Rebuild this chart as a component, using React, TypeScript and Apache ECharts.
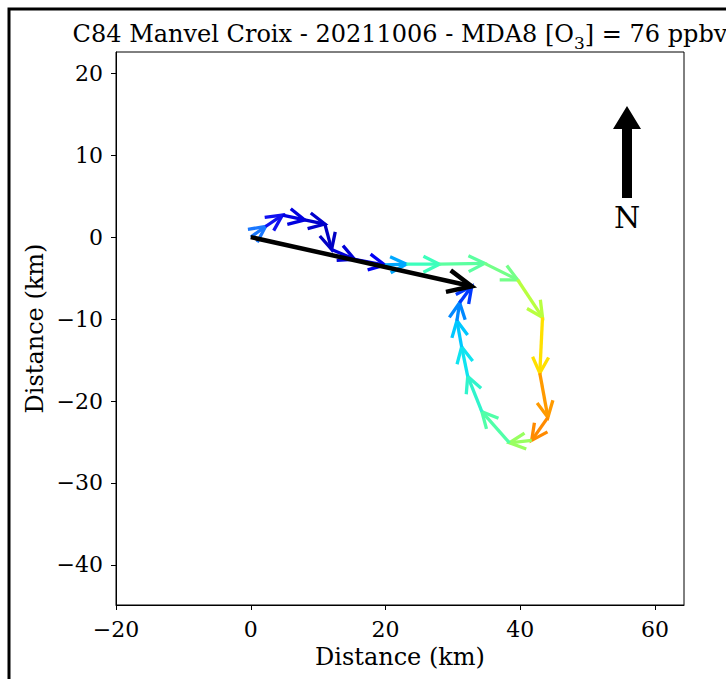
import React, { useEffect, useRef } from "react";
import * as echarts from "echarts";

// Trajectory vertices (km east, km north), in order of travel
const xKm = [0, 2.2, 4.7, 8.0, 11.0, 12.0, 15.4, 19.9, 23.1, 28.0, 34.7, 39.6, 43.3, 42.9, 44.1, 41.7, 38.4, 34.3, 32.2, 31.3, 30.6, 31.0, 32.8];
const yKm = [0, 1.3, 2.7, 2.1, 1.6, -1.5, -2.7, -3.4, -3.3, -3.3, -3.2, -5.2, -9.8, -16.6, -22.0, -24.8, -25.1, -21.3, -17.0, -13.4, -10.2, -8.0, -6.0];
// colour of each segment (jet colormap values)
const segColors = [
  "#1a78ff", "#1010f0", "#0000e0", "#0000cc", "#0000c4", "#0000d8", "#0000f4", "#00a8ff",
  "#3cffbc", "#5cffa0", "#74ff88", "#b8ff40", "#ffe000", "#ff9a00", "#ff8a00", "#98ff60",
  "#50ffa8", "#30f4cc", "#10e4f0", "#00c8ff", "#0088ff", "#0038ff",
];
const xTicks = [-20, 0, 20, 40, 60];
const yTicks = [-40, -30, -20, -10, 0, 10, 20];
const titleBefore = "C84 Manvel Croix - 20211006 - MDA8 [O";
const titleSub = "3";
const titleAfter = "] = 76 ppbv";
const axisName = "Distance (km)";

const FONT = "DejaVu Serif";
const fmt = (v: number) => (v < 0 ? "\u2212" + Math.abs(v) : String(v));

function arrowItem(p0: number[], p1: number[], color: string, lw: number, hl: number, hw: number) {
  const a = Math.atan2(p1[1] - p0[1], p1[0] - p0[0]);
  const c = Math.cos(a), s = Math.sin(a);
  const w1 = [p1[0] - hl * c - hw * s, p1[1] - hl * s + hw * c];
  const w2 = [p1[0] - hl * c + hw * s, p1[1] - hl * s - hw * c];
  return {
    type: "group",
    children: [
      { type: "line", shape: { x1: p0[0], y1: p0[1], x2: p1[0], y2: p1[1] }, style: { stroke: color, lineWidth: lw, lineCap: "butt" } },
      { type: "polyline", shape: { points: [w1, p1, w2] }, style: { stroke: color, fill: null, lineWidth: lw, lineJoin: "miter", lineCap: "butt" } },
    ],
  };
}

export default function App() {
  const ref = useRef<HTMLDivElement>(null);
  useEffect(() => {
    const chart = echarts.init(ref.current!, null, { renderer: "svg" });
    const segs = xKm.slice(1).map((x, i) => [xKm[i], yKm[i], x, yKm[i + 1]]);
    const n = xKm.length - 1;
    const net = [[xKm[0], yKm[0], xKm[n], yKm[n]]];
    const axisCommon = {
      type: "value",
      splitLine: { show: false },
      axisLine: { show: true, onZero: false, lineStyle: { color: "#000", width: 1 } },
      axisTick: { show: true, length: 5, lineStyle: { color: "#000", width: 1 } },
      nameTextStyle: { fontFamily: FONT, fontSize: 24, color: "#000" },
      nameLocation: "middle",
      nameMoveOverlap: false,
    };
    chart.setOption({
      animation: false,
      backgroundColor: "#fff",
      grid: { left: 116, right: 42, top: 52, bottom: 74, show: true, borderColor: "#000", borderWidth: 1, backgroundColor: "transparent", containLabel: false, outerBoundsMode: "none" },
      xAxis: {
        ...axisCommon,
        min: -20, max: 64.3,
        name: axisName, nameGap: 40,
        axisLabel: { customValues: xTicks, formatter: fmt, fontFamily: FONT, fontSize: 22, color: "#000", margin: 13 },
        axisTick: { ...axisCommon.axisTick, customValues: xTicks },
      },
      yAxis: {
        ...axisCommon,
        min: -44.9, max: 22.6,
        name: axisName, nameGap: 69,
        axisLabel: { customValues: yTicks, formatter: fmt, fontFamily: FONT, fontSize: 22, color: "#000", margin: 13 },
        axisTick: { ...axisCommon.axisTick, customValues: yTicks },
      },
      graphic: [
        { type: "rect", shape: { x: 9, y: 9, width: 900, height: 900 }, style: { fill: null, stroke: "#000", lineWidth: 3 }, silent: true },
        {
          type: "text", x: 400, y: 34,
          style: {
            text: "{a|" + titleBefore + "}{s|" + titleSub + "}{a|" + titleAfter + "}",
            fontFamily: FONT, fontSize: 24, fill: "#000", textAlign: "center", textVerticalAlign: "middle",
            rich: {
              a: { fontFamily: FONT, fontSize: 24, lineHeight: 28, fill: "#000" },
              s: { fontFamily: FONT, fontSize: 17, lineHeight: 17, verticalAlign: "bottom", fill: "#000", padding: [0, 0, -3, 0] },
            },
          },
        },
        { type: "polygon", shape: { points: [[622, 198], [622, 129], [613, 129], [627, 106], [641, 129], [632, 129], [632, 198]] }, style: { fill: "#000" } },
        { type: "text", x: 627, y: 217, style: { text: "N", fontFamily: FONT, fontSize: 30, fill: "#000", textAlign: "center", textVerticalAlign: "middle" } },
      ],
      series: [
        {
          type: "custom",
          data: segs,
          encode: { x: [0, 2], y: [1, 3] },
          z: 2,
          renderItem: (params: any, api: any) => {
            const p0 = api.coord([api.value(0), api.value(1)]);
            const p1 = api.coord([api.value(2), api.value(3)]);
            return arrowItem(p0, p1, segColors[params.dataIndex], 3.3, 16, 8);
          },
        },
        {
          type: "custom",
          data: net,
          encode: { x: [0, 2], y: [1, 3] },
          z: 3,
          renderItem: (params: any, api: any) => {
            const p0 = api.coord([api.value(0), api.value(1)]);
            const p1 = api.coord([api.value(2), api.value(3)]);
            return arrowItem(p0, p1, "#000", 4.5, 24, 11);
          },
        },
      ],
    });
    return () => chart.dispose();
  }, []);
  return <div ref={ref} style={{ position: "fixed", left: 0, top: 0, width: 726, height: 679 }} />;
}
